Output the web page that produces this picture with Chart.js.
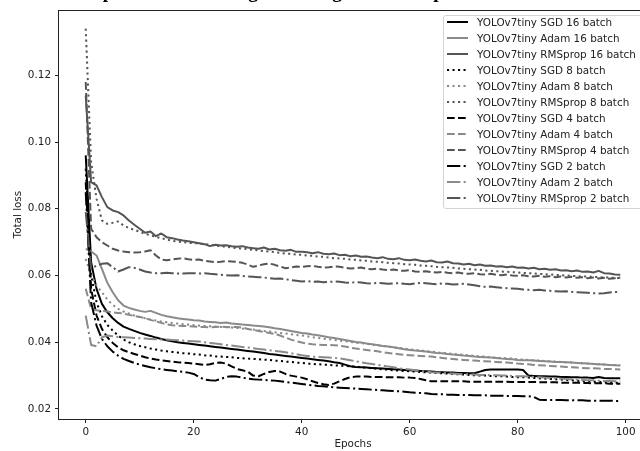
<!DOCTYPE html>
<html>
<head>
<meta charset="utf-8">
<script src="https://cdn.jsdelivr.net/npm/chart.js@4.4.0/dist/chart.umd.min.js"></script>
<style>
  html, body { margin: 0; padding: 0; background: #fff; overflow: hidden; }
  #wrap { position: relative; width: 640px; height: 451px; overflow: hidden; }
  #chart { position: absolute; left: 0; top: 0; }
  .title {
    position: absolute; left: 63px; top: -18px;
    font: bold 19.4px "Liberation Serif", "Times New Roman", serif;
    line-height: 1; white-space: nowrap; color: #000;
  }
  .legend {
    position: absolute; left: 443px; top: 15px; width: 240px; height: 194px;
    box-sizing: border-box; border: 1px solid #d4d4d4; border-radius: 3px;
    background: rgba(255, 255, 255, 0.85);
    font: 10.4px "DejaVu Sans", sans-serif; color: #222;
  }
  .legend .row { position: absolute; left: 3px; height: 16px; display: flex; align-items: center; white-space: nowrap; }
  .legend svg { margin-right: 9px; }
</style>
</head>
<body>
<div id="wrap">
  <canvas id="chart" width="700" height="451"></canvas>
  <div class="title">Comparison of training loss using different optimizers and batch sizes</div>
  <div class="legend" id="legend"></div>
</div>
<script>
const epochs = Array.from({ length: 100 }, (_, i) => i);
const xTicks = [0, 20, 40, 60, 80, 100];
const yTicks = [0.02, 0.04, 0.06, 0.08, 0.10, 0.12];

const sgd16 = [
  0.0960, 0.0640, 0.0560, 0.0515, 0.0490, 0.0472, 0.0458, 0.0447, 0.0440, 0.0434,
  0.0428, 0.0423, 0.0419, 0.0414, 0.0410, 0.0406, 0.0403, 0.0400, 0.0398, 0.0396,
  0.0394, 0.0392, 0.0390, 0.0388, 0.0386, 0.0384, 0.0382, 0.0380, 0.0378, 0.0376,
  0.0374, 0.0372, 0.0370, 0.0368, 0.0365, 0.0363, 0.0361, 0.0359, 0.0357, 0.0355,
  0.0353, 0.0351, 0.0349, 0.0347, 0.0345, 0.0343, 0.0340, 0.0338, 0.0333, 0.0328,
  0.0326, 0.0325, 0.0324, 0.0323, 0.0322, 0.0321, 0.0320, 0.0319, 0.0318, 0.0317,
  0.0316, 0.0315, 0.0314, 0.0313, 0.0312, 0.0311, 0.0310, 0.0309, 0.0309, 0.0308,
  0.0308, 0.0307, 0.0307, 0.0312, 0.0317, 0.0318, 0.0318, 0.0318, 0.0318, 0.0318,
  0.0318, 0.0317, 0.0300, 0.0299, 0.0298, 0.0298, 0.0297, 0.0297, 0.0296, 0.0296,
  0.0295, 0.0295, 0.0294, 0.0294, 0.0293, 0.0296, 0.0293, 0.0292, 0.0292, 0.0292
];
const adam16 = [
  0.0680, 0.0672, 0.0660, 0.0620, 0.0578, 0.0550, 0.0526, 0.0510, 0.0503, 0.0498,
  0.0494, 0.0491, 0.0494, 0.0488, 0.0482, 0.0478, 0.0475, 0.0472, 0.0470, 0.0468,
  0.0466, 0.0465, 0.0462, 0.0461, 0.0460, 0.0458, 0.0459, 0.0456, 0.0455, 0.0453,
  0.0452, 0.0450, 0.0449, 0.0447, 0.0445, 0.0442, 0.0440, 0.0437, 0.0434, 0.0431,
  0.0428, 0.0426, 0.0423, 0.0421, 0.0418, 0.0415, 0.0413, 0.0410, 0.0407, 0.0404,
  0.0401, 0.0399, 0.0396, 0.0394, 0.0392, 0.0389, 0.0387, 0.0385, 0.0382, 0.0379,
  0.0377, 0.0375, 0.0374, 0.0372, 0.0370, 0.0368, 0.0367, 0.0365, 0.0363, 0.0362,
  0.0360, 0.0359, 0.0357, 0.0356, 0.0355, 0.0354, 0.0353, 0.0351, 0.0350, 0.0349,
  0.0347, 0.0346, 0.0346, 0.0345, 0.0344, 0.0343, 0.0342, 0.0341, 0.0341, 0.0340,
  0.0339, 0.0338, 0.0337, 0.0336, 0.0335, 0.0334, 0.0333, 0.0332, 0.0331, 0.0330
];
const rms16 = [
  0.1140, 0.0880, 0.0870, 0.0835, 0.0805, 0.0795, 0.0790, 0.0780, 0.0765, 0.0752,
  0.0740, 0.0728, 0.0732, 0.0718, 0.0726, 0.0715, 0.0712, 0.0708, 0.0705, 0.0703,
  0.0700, 0.0697, 0.0694, 0.0688, 0.0692, 0.0690, 0.0691, 0.0688, 0.0686, 0.0688,
  0.0684, 0.0682, 0.0680, 0.0684, 0.0678, 0.0680, 0.0676, 0.0674, 0.0677, 0.0671,
  0.0671, 0.0670, 0.0667, 0.0670, 0.0665, 0.0664, 0.0666, 0.0661, 0.0662, 0.0658,
  0.0660, 0.0656, 0.0657, 0.0654, 0.0652, 0.0655, 0.0650, 0.0649, 0.0652, 0.0647,
  0.0646, 0.0648, 0.0644, 0.0642, 0.0645, 0.0640, 0.0639, 0.0642, 0.0637, 0.0636,
  0.0633, 0.0635, 0.0631, 0.0633, 0.0629, 0.0630, 0.0627, 0.0628, 0.0625, 0.0627,
  0.0623, 0.0624, 0.0621, 0.0623, 0.0619, 0.0620, 0.0617, 0.0619, 0.0615, 0.0616,
  0.0613, 0.0615, 0.0611, 0.0612, 0.0609, 0.0614, 0.0607, 0.0606, 0.0603, 0.0602
];
const sgd8 = [
  0.0920, 0.0600, 0.0520, 0.0478, 0.0452, 0.0435, 0.0420, 0.0408, 0.0400, 0.0394,
  0.0389, 0.0385, 0.0381, 0.0378, 0.0375, 0.0373, 0.0371, 0.0369, 0.0367, 0.0366,
  0.0364, 0.0363, 0.0361, 0.0360, 0.0358, 0.0357, 0.0356, 0.0355, 0.0353, 0.0352,
  0.0351, 0.0350, 0.0349, 0.0348, 0.0347, 0.0345, 0.0344, 0.0342, 0.0341, 0.0339,
  0.0338, 0.0336, 0.0335, 0.0334, 0.0333, 0.0332, 0.0331, 0.0330, 0.0329, 0.0328,
  0.0327, 0.0325, 0.0324, 0.0322, 0.0321, 0.0319, 0.0318, 0.0316, 0.0315, 0.0314,
  0.0313, 0.0312, 0.0311, 0.0310, 0.0309, 0.0308, 0.0307, 0.0306, 0.0305, 0.0304,
  0.0303, 0.0302, 0.0301, 0.0300, 0.0300, 0.0299, 0.0298, 0.0298, 0.0297, 0.0296,
  0.0295, 0.0295, 0.0294, 0.0293, 0.0292, 0.0291, 0.0290, 0.0289, 0.0288, 0.0287,
  0.0286, 0.0285, 0.0284, 0.0283, 0.0282, 0.0281, 0.0280, 0.0280, 0.0279, 0.0279
];
const adam8 = [
  0.0650, 0.0600, 0.0570, 0.0550, 0.0528, 0.0512, 0.0500, 0.0492, 0.0486, 0.0480,
  0.0476, 0.0472, 0.0468, 0.0465, 0.0462, 0.0460, 0.0458, 0.0456, 0.0454, 0.0453,
  0.0451, 0.0450, 0.0449, 0.0448, 0.0447, 0.0446, 0.0445, 0.0444, 0.0443, 0.0441,
  0.0440, 0.0438, 0.0436, 0.0434, 0.0432, 0.0430, 0.0428, 0.0426, 0.0424, 0.0422,
  0.0420, 0.0418, 0.0415, 0.0413, 0.0411, 0.0409, 0.0407, 0.0405, 0.0403, 0.0401,
  0.0399, 0.0397, 0.0395, 0.0393, 0.0391, 0.0389, 0.0387, 0.0385, 0.0383, 0.0381,
  0.0379, 0.0377, 0.0375, 0.0374, 0.0372, 0.0370, 0.0368, 0.0367, 0.0365, 0.0364,
  0.0362, 0.0361, 0.0359, 0.0358, 0.0357, 0.0355, 0.0354, 0.0353, 0.0352, 0.0351,
  0.0349, 0.0348, 0.0347, 0.0346, 0.0345, 0.0344, 0.0343, 0.0342, 0.0341, 0.0340,
  0.0339, 0.0338, 0.0337, 0.0336, 0.0335, 0.0334, 0.0333, 0.0332, 0.0332, 0.0331
];
const rms8 = [
  0.1340, 0.0940, 0.0830, 0.0765, 0.0755, 0.0758, 0.0762, 0.0750, 0.0742, 0.0737,
  0.0731, 0.0725, 0.0720, 0.0716, 0.0712, 0.0708, 0.0704, 0.0702, 0.0700, 0.0698,
  0.0697, 0.0696, 0.0694, 0.0692, 0.0690, 0.0688, 0.0686, 0.0684, 0.0682, 0.0681,
  0.0679, 0.0677, 0.0675, 0.0673, 0.0672, 0.0670, 0.0668, 0.0666, 0.0665, 0.0663,
  0.0662, 0.0660, 0.0659, 0.0657, 0.0656, 0.0654, 0.0652, 0.0651, 0.0650, 0.0648,
  0.0647, 0.0645, 0.0644, 0.0642, 0.0641, 0.0640, 0.0638, 0.0637, 0.0636, 0.0634,
  0.0633, 0.0632, 0.0630, 0.0629, 0.0628, 0.0626, 0.0625, 0.0624, 0.0623, 0.0621,
  0.0620, 0.0619, 0.0618, 0.0617, 0.0615, 0.0614, 0.0613, 0.0612, 0.0611, 0.0610,
  0.0609, 0.0608, 0.0607, 0.0606, 0.0605, 0.0604, 0.0603, 0.0602, 0.0601, 0.0600,
  0.0599, 0.0598, 0.0597, 0.0597, 0.0596, 0.0595, 0.0594, 0.0594, 0.0593, 0.0592
];
const sgd4 = [
  0.0880, 0.0560, 0.0480, 0.0440, 0.0415, 0.0398, 0.0385, 0.0376, 0.0370, 0.0365,
  0.0360, 0.0355, 0.0351, 0.0348, 0.0346, 0.0344, 0.0342, 0.0340, 0.0339, 0.0338,
  0.0336, 0.0334, 0.0332, 0.0334, 0.0338, 0.0339, 0.0336, 0.0328, 0.0320, 0.0316,
  0.0312, 0.0300, 0.0298, 0.0305, 0.0311, 0.0314, 0.0312, 0.0305, 0.0300, 0.0297,
  0.0294, 0.0289, 0.0283, 0.0278, 0.0274, 0.0272, 0.0276, 0.0283, 0.0290, 0.0295,
  0.0297, 0.0297, 0.0297, 0.0296, 0.0296, 0.0296, 0.0295, 0.0295, 0.0295, 0.0294,
  0.0294, 0.0293, 0.0290, 0.0286, 0.0283, 0.0283, 0.0283, 0.0283, 0.0283, 0.0283,
  0.0283, 0.0282, 0.0282, 0.0282, 0.0282, 0.0282, 0.0282, 0.0282, 0.0282, 0.0281,
  0.0281, 0.0281, 0.0281, 0.0281, 0.0280, 0.0280, 0.0280, 0.0280, 0.0279, 0.0279,
  0.0279, 0.0279, 0.0278, 0.0278, 0.0277, 0.0277, 0.0277, 0.0276, 0.0276, 0.0276
];
const adam4 = [
  0.0560, 0.0500, 0.0496, 0.0494, 0.0492, 0.0490, 0.0488, 0.0486, 0.0482, 0.0479,
  0.0476, 0.0472, 0.0467, 0.0462, 0.0458, 0.0454, 0.0451, 0.0450, 0.0449, 0.0448,
  0.0447, 0.0446, 0.0446, 0.0445, 0.0446, 0.0447, 0.0446, 0.0445, 0.0446, 0.0444,
  0.0440, 0.0437, 0.0434, 0.0431, 0.0428, 0.0425, 0.0420, 0.0414, 0.0408, 0.0403,
  0.0399, 0.0396, 0.0394, 0.0393, 0.0392, 0.0392, 0.0391, 0.0390, 0.0387, 0.0384,
  0.0381, 0.0379, 0.0377, 0.0375, 0.0373, 0.0370, 0.0368, 0.0366, 0.0364, 0.0362,
  0.0361, 0.0360, 0.0359, 0.0358, 0.0357, 0.0355, 0.0353, 0.0351, 0.0350, 0.0348,
  0.0347, 0.0346, 0.0345, 0.0344, 0.0343, 0.0342, 0.0341, 0.0340, 0.0339, 0.0338,
  0.0336, 0.0335, 0.0334, 0.0332, 0.0331, 0.0330, 0.0329, 0.0328, 0.0327, 0.0326,
  0.0325, 0.0324, 0.0323, 0.0322, 0.0322, 0.0321, 0.0320, 0.0320, 0.0319, 0.0318
];
const rms4 = [
  0.1180, 0.0740, 0.0715, 0.0700, 0.0690, 0.0680, 0.0675, 0.0672, 0.0670, 0.0669,
  0.0670, 0.0672, 0.0676, 0.0660, 0.0648, 0.0646, 0.0648, 0.0650, 0.0652, 0.0649,
  0.0647, 0.0648, 0.0644, 0.0642, 0.0640, 0.0641, 0.0643, 0.0642, 0.0641, 0.0638,
  0.0633, 0.0626, 0.0630, 0.0634, 0.0636, 0.0632, 0.0627, 0.0622, 0.0624, 0.0627,
  0.0626, 0.0628, 0.0629, 0.0626, 0.0624, 0.0625, 0.0627, 0.0626, 0.0623, 0.0621,
  0.0622, 0.0624, 0.0620, 0.0619, 0.0621, 0.0618, 0.0616, 0.0618, 0.0615, 0.0614,
  0.0616, 0.0612, 0.0611, 0.0613, 0.0610, 0.0609, 0.0611, 0.0608, 0.0607, 0.0609,
  0.0606, 0.0605, 0.0607, 0.0604, 0.0603, 0.0605, 0.0602, 0.0601, 0.0603, 0.0600,
  0.0599, 0.0601, 0.0598, 0.0597, 0.0599, 0.0596, 0.0598, 0.0595, 0.0597, 0.0594,
  0.0596, 0.0593, 0.0595, 0.0592, 0.0594, 0.0591, 0.0593, 0.0590, 0.0592, 0.0594
];
const sgd2 = [
  0.0850, 0.0520, 0.0450, 0.0410, 0.0388, 0.0372, 0.0360, 0.0350, 0.0344, 0.0338,
  0.0333, 0.0329, 0.0325, 0.0322, 0.0319, 0.0317, 0.0315, 0.0313, 0.0311, 0.0309,
  0.0305, 0.0296, 0.0288, 0.0286, 0.0285, 0.0290, 0.0296, 0.0298, 0.0297, 0.0294,
  0.0291, 0.0289, 0.0288, 0.0287, 0.0286, 0.0285, 0.0283, 0.0281, 0.0279, 0.0277,
  0.0275, 0.0273, 0.0271, 0.0269, 0.0268, 0.0266, 0.0265, 0.0264, 0.0263, 0.0262,
  0.0261, 0.0260, 0.0259, 0.0258, 0.0257, 0.0256, 0.0255, 0.0254, 0.0253, 0.0252,
  0.0250, 0.0249, 0.0248, 0.0247, 0.0245, 0.0244, 0.0244, 0.0243, 0.0243, 0.0242,
  0.0242, 0.0242, 0.0241, 0.0241, 0.0241, 0.0240, 0.0240, 0.0240, 0.0239, 0.0239,
  0.0239, 0.0238, 0.0238, 0.0236, 0.0228, 0.0227, 0.0227, 0.0227, 0.0227, 0.0226,
  0.0226, 0.0226, 0.0226, 0.0225, 0.0225, 0.0225, 0.0225, 0.0225, 0.0224, 0.0224
];
const adam2 = [
  0.0480, 0.0392, 0.0388, 0.0415, 0.0420, 0.0418, 0.0416, 0.0415, 0.0414, 0.0413,
  0.0412, 0.0411, 0.0410, 0.0409, 0.0408, 0.0408, 0.0407, 0.0406, 0.0405, 0.0404,
  0.0403, 0.0402, 0.0400, 0.0398, 0.0396, 0.0394, 0.0392, 0.0390, 0.0388, 0.0386,
  0.0384, 0.0382, 0.0380, 0.0378, 0.0376, 0.0374, 0.0372, 0.0370, 0.0367, 0.0364,
  0.0361, 0.0359, 0.0357, 0.0356, 0.0355, 0.0354, 0.0353, 0.0352, 0.0349, 0.0346,
  0.0343, 0.0340, 0.0337, 0.0335, 0.0332, 0.0330, 0.0327, 0.0325, 0.0322, 0.0320,
  0.0318, 0.0316, 0.0314, 0.0312, 0.0310, 0.0309, 0.0308, 0.0307, 0.0306, 0.0305,
  0.0304, 0.0304, 0.0303, 0.0302, 0.0302, 0.0301, 0.0301, 0.0300, 0.0300, 0.0299,
  0.0298, 0.0298, 0.0297, 0.0296, 0.0295, 0.0294, 0.0293, 0.0292, 0.0291, 0.0290,
  0.0289, 0.0288, 0.0287, 0.0286, 0.0286, 0.0285, 0.0284, 0.0284, 0.0283, 0.0283
];
const rms2 = [
  0.0790, 0.0620, 0.0630, 0.0635, 0.0637, 0.0625, 0.0612, 0.0618, 0.0625, 0.0623,
  0.0618, 0.0612, 0.0609, 0.0607, 0.0607, 0.0608, 0.0607, 0.0606, 0.0606, 0.0607,
  0.0607, 0.0606, 0.0607, 0.0605, 0.0604, 0.0602, 0.0601, 0.0600, 0.0601, 0.0599,
  0.0597, 0.0596, 0.0595, 0.0594, 0.0592, 0.0590, 0.0591, 0.0589, 0.0586, 0.0584,
  0.0582, 0.0583, 0.0581, 0.0582, 0.0580, 0.0581, 0.0582, 0.0581, 0.0579, 0.0578,
  0.0580, 0.0579, 0.0577, 0.0576, 0.0578, 0.0577, 0.0575, 0.0576, 0.0577, 0.0575,
  0.0574, 0.0576, 0.0578, 0.0577, 0.0575, 0.0574, 0.0576, 0.0575, 0.0573, 0.0574,
  0.0575, 0.0573, 0.0571, 0.0568, 0.0566, 0.0567, 0.0565, 0.0563, 0.0562, 0.0561,
  0.0560, 0.0558, 0.0557, 0.0556, 0.0557, 0.0555, 0.0554, 0.0553, 0.0552, 0.0553,
  0.0551, 0.0550, 0.0549, 0.0548, 0.0547, 0.0546, 0.0547, 0.0549, 0.0551, 0.0550
];

const seriesNames = [
  'YOLOv7tiny SGD 16 batch', 'YOLOv7tiny Adam 16 batch', 'YOLOv7tiny RMSprop 16 batch',
  'YOLOv7tiny SGD 8 batch', 'YOLOv7tiny Adam 8 batch', 'YOLOv7tiny RMSprop 8 batch',
  'YOLOv7tiny SGD 4 batch', 'YOLOv7tiny Adam 4 batch', 'YOLOv7tiny RMSprop 4 batch',
  'YOLOv7tiny SGD 2 batch', 'YOLOv7tiny Adam 2 batch', 'YOLOv7tiny RMSprop 2 batch'
];
const seriesValues = [sgd16, adam16, rms16, sgd8, adam8, rms8, sgd4, adam4, rms4, sgd2, adam2, rms2];

// optimizer -> colour, batch size -> line style (matplotlib-like dash lengths at lw 2)
const colors = ['#000000', '#8a8a8a', '#555555'];
const dashes = [[], [2.1, 3.4], [7.7, 3.3], [13.3, 3.3, 2.1, 3.3]];

const font = { family: 'DejaVu Sans', size: 10.4 };
const textColor = '#222';

const datasets = seriesValues.map((vals, i) => ({
  label: seriesNames[i],
  data: vals.map((v, j) => ({ x: epochs[j], y: v })),
  borderColor: colors[i % 3],
  borderDash: dashes[Math.floor(i / 3)],
  borderWidth: 2,
  borderCapStyle: 'butt',
  borderJoinStyle: 'round',
  pointRadius: 0,
  tension: 0,
  fill: false,
  order: seriesValues.length - i
}));

// full box around the plot, like matplotlib spines
const frame = {
  id: 'frame',
  afterDraw(chart) {
    const { ctx, chartArea: a } = chart;
    ctx.save();
    ctx.strokeStyle = '#222';
    ctx.lineWidth = 1;
    ctx.strokeRect(Math.round(a.left) - 0.5, Math.round(a.top) + 0.5,
      Math.round(a.right - a.left), Math.round(a.bottom - a.top));
    ctx.restore();
  }
};

const chart = new Chart(document.getElementById('chart'), {
  type: 'line',
  data: { datasets },
  plugins: [frame],
  options: {
    responsive: false,
    animation: false,
    devicePixelRatio: 1,
    layout: { padding: { top: 10, right: 53, left: 0, bottom: 0 } },
    plugins: { legend: { display: false }, tooltip: { enabled: false } },
    scales: {
      x: {
        type: 'linear',
        min: -4.95,
        max: 103.95,
        afterBuildTicks: s => { s.ticks = xTicks.map(v => ({ value: v })); },
        afterFit: s => { s.height = 32; },
        ticks: { font, color: textColor, padding: 3, autoSkip: false, maxRotation: 0, callback: v => String(v) },
        grid: { drawOnChartArea: false, tickLength: 4, color: '#222', tickWidth: 1 },
        border: { display: false },
        title: { display: true, text: 'Epochs', font, color: textColor, padding: { top: -1, bottom: 0 } }
      },
      y: {
        min: 0.017,
        max: 0.1395,
        afterBuildTicks: s => { s.ticks = yTicks.map(v => ({ value: v })); },
        afterFit: s => { s.width = 59; },
        ticks: { font, color: textColor, padding: 4, autoSkip: false, callback: v => v.toFixed(2) },
        grid: { drawOnChartArea: false, tickLength: 4, color: '#222', tickWidth: 1 },
        border: { display: false },
        title: { display: true, text: 'Total loss', font, color: textColor, padding: { top: 12, bottom: 0 } }
      }
    }
  }
});

// legend box drawn inside the plot, built from the chart's datasets
const legendEl = document.getElementById('legend');
chart.data.datasets.forEach((ds, i) => {
  const row = document.createElement('div');
  row.className = 'row';
  row.style.top = (16 * i - 2) + 'px';
  const dash = ds.borderDash.length ? ds.borderDash.join(' ') : 'none';
  row.innerHTML =
    `<svg width="21" height="6"><line x1="0" y1="3" x2="21" y2="3" stroke="${ds.borderColor}" ` +
    `stroke-width="2" stroke-dasharray="${dash}"/></svg><span>${ds.label}</span>`;
  legendEl.appendChild(row);
});
</script>
</body>
</html>
